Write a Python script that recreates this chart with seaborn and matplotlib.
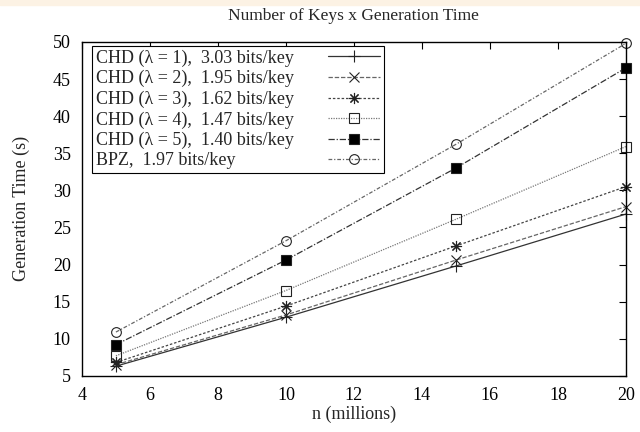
import pandas as pd
import seaborn as sns
import matplotlib.pyplot as plt
from matplotlib.patches import Rectangle

# values
n_millions = [5, 10, 15, 20]
chd1 = [6.3, 12.9, 19.8, 26.8]
chd2 = [6.5, 13.2, 20.6, 27.8]
chd3 = [6.8, 14.4, 22.5, 30.5]
chd4 = [7.7, 16.5, 26.1, 35.9]
chd5 = [9.2, 20.6, 33.0, 46.5]
bpz = [10.9, 23.2, 36.2, 49.8]

labels = [
    'CHD (λ = 1),  3.03 bits/key',
    'CHD (λ = 2),  1.95 bits/key',
    'CHD (λ = 3),  1.62 bits/key',
    'CHD (λ = 4),  1.47 bits/key',
    'CHD (λ = 5),  1.40 bits/key',
    'BPZ,  1.97 bits/key',
]
series = [chd1, chd2, chd3, chd4, chd5, bpz]

styles = [
    dict(marker='+', dashes=None, mfc='none', ms=9, color='#333333'),
    dict(marker='x', dashes=(3.5, 1.5), mfc='none', ms=7, color='#666666'),
    dict(marker=(8, 2, 0), dashes=(2, 1.5), mfc='none', ms=8, color='#444444'),
    dict(marker='s', dashes=(1, 1), mfc='none', ms=7, color='#777777'),
    dict(marker='s', dashes=(5, 1.5, 1, 1.5), mfc='black', ms=7, color='#333333'),
    dict(marker='o', dashes=(3, 1.5, 1, 1.5), mfc='none', ms=7, color='#666666'),
]

rows = []
for lab, vals in zip(labels, series):
    for x, y in zip(n_millions, vals):
        rows.append({'series': lab, 'n': x, 'time': y})
data = pd.DataFrame(rows)

sns.set_theme(style='white')
plt.rcParams['font.family'] = ['Liberation Serif', 'DejaVu Serif']

fig = plt.figure(figsize=(6.4, 4.32), dpi=100)
fig.patches.append(Rectangle((0, 1 - 5 / 432), 1, 5 / 432, transform=fig.transFigure,
                             color='#fcf2e4', zorder=-1))
ax = fig.add_axes([0.128, 0.13, 0.85, 0.773])

for lab, st in zip(labels, styles):
    sub = data[data['series'] == lab]
    sns.lineplot(data=sub, x='n', y='time', ax=ax, label=lab,
                 color=st['color'], linewidth=0.9,
                 marker=st['marker'], markersize=st['ms'],
                 markerfacecolor=st['mfc'], markeredgecolor='#222222',
                 markeredgewidth=0.8, clip_on=False)
    line = ax.get_lines()[-1]
    if st['dashes'] is not None:
        line.set_dashes(st['dashes'])

ax.set_xlim(4, 20)
ax.set_ylim(5, 50)
ax.set_xticks(range(4, 21, 2))
ax.set_yticks(range(5, 51, 5))
ax.tick_params(direction='in', length=5, width=0.8, labelsize=13,
               top=True, right=True, pad=8, colors='black')
for s in ax.spines.values():
    s.set_color('black')
    s.set_linewidth(1.0)

ax.set_title('Number of Keys x Generation Time', fontsize=12.5, pad=16)
ax.set_xlabel('n (millions)', fontsize=13, labelpad=1)
ax.set_ylabel('Generation Time (s)', fontsize=13, labelpad=16)

leg = ax.legend(loc='upper left', bbox_to_anchor=(10 / 544, 1 - 4 / 334),
                borderaxespad=0, markerfirst=False, fancybox=False,
                fontsize=13, handlelength=2.9, borderpad=0.2,
                labelspacing=0.18, handletextpad=1.9,
                framealpha=1, edgecolor='black')
leg.get_frame().set_linewidth(0.8)

# left-align the label texts while keeping the line samples in one column
fig.canvas.draw()
r = fig.canvas.get_renderer()
items = leg._legend_handle_box.get_children()[0].get_children()
widths = [t.get_window_extent(r).width for t in leg.get_texts()]
mw = max(widths)
for item, w in zip(items, widths):
    item.sep = item.sep + (mw - w) * 72 / fig.dpi

fig.savefig('out.png', dpi=100)
